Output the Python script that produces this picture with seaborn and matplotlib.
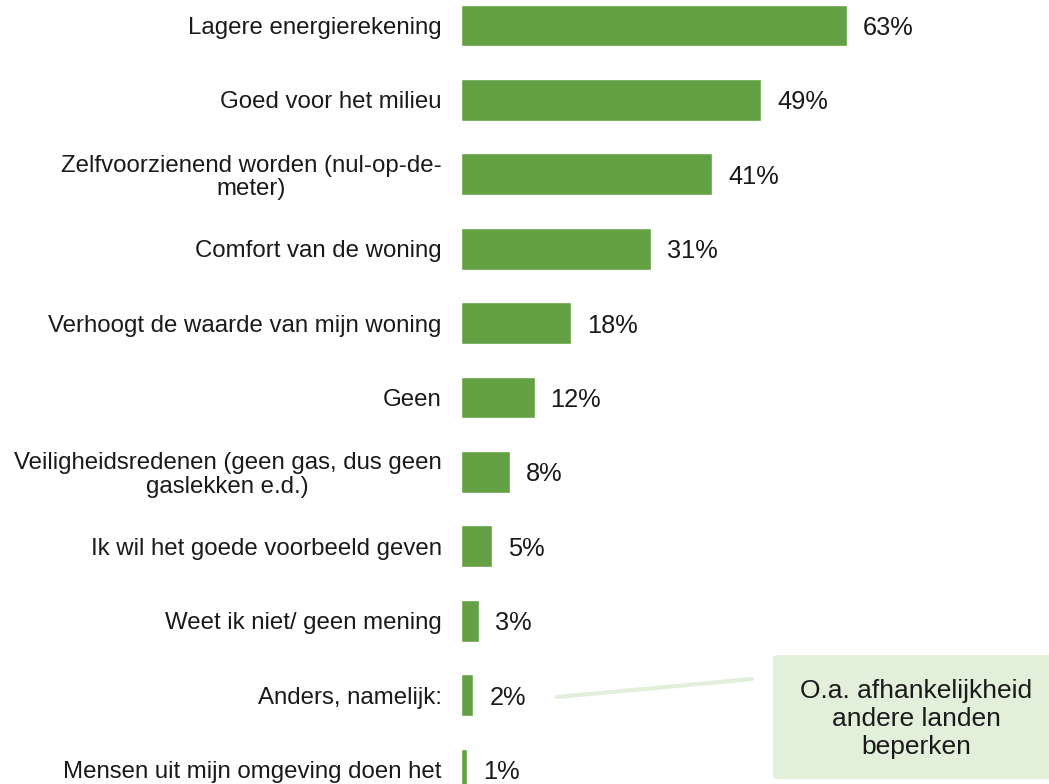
import seaborn as sns
import pandas as pd
import matplotlib.pyplot as plt
from matplotlib.patches import FancyBboxPatch
from matplotlib.lines import Line2D

redenen = [
    "Lagere energierekening",
    "Goed voor het milieu",
    "Zelfvoorzienend worden (nul-op-de-\nmeter)",
    "Comfort van de woning",
    "Verhoogt de waarde van mijn woning",
    "Geen",
    "Veiligheidsredenen (geen gas, dus geen\ngaslekken e.d.)",
    "Ik wil het goede voorbeeld geven",
    "Weet ik niet/ geen mening",
    "Anders, namelijk:",
    "Mensen uit mijn omgeving doen het",
]
percentages = [63, 49, 41, 31, 18, 12, 8, 5, 3, 2, 1]
toelichting = "O.a. afhankelijkheid\nandere landen\nbeperken"

df = pd.DataFrame({"reden": redenen, "pct": percentages})

sns.set_style("white")
plt.rcParams["font.family"] = ["Liberation Sans", "DejaVu Sans"]

W, H = 1049, 784
x0, px_pct = 461, 6.13       # bar start (px) and px per percent
y0, px_row = 25.5, 74.4      # first bar centre and row spacing (px)

fig = plt.figure(figsize=(W / 100, H / 100), dpi=100)
ax = fig.add_axes([x0 / W, 0, 1 - x0 / W, 1])

sns.barplot(data=df, x="pct", y="reden", color="#64A044", saturation=1,
            width=0.56, orient="h", ax=ax)

ax.set_xlim(0, (W - x0) / px_pct)
ax.set_ylim((H - y0) / px_row, -y0 / px_row)
ax.set_xlabel("")
ax.set_ylabel("")
ax.set_xticks([])
for s in ax.spines.values():
    s.set_visible(False)

ax.tick_params(axis="y", length=0, pad=14)
ax.set_yticks(range(len(redenen)))
ax.set_yticklabels(redenen, fontsize=17.3, multialignment="center",
                   color="#1a1a1a", linespacing=1.1)

for i, p in enumerate(percentages):
    ax.text(p + 16 / px_pct, i, f"{p}%", va="center_baseline", ha="left",
            fontsize=18.3, color="#1a1a1a")

# toelichting bij "Anders, namelijk"
fig.add_artist(Line2D([557 / W, 752 / W], [1 - 697 / H, 1 - 679 / H],
                      transform=fig.transFigure, color="#E2EFDA", lw=3))
box = FancyBboxPatch((773 / W, 1 - 779 / H), 300 / W, 124 / H,
                     boxstyle="round,pad=0,rounding_size=0.005",
                     transform=fig.transFigure, facecolor="#E2EFDA",
                     edgecolor="none")
fig.add_artist(box)
fig.text(916 / W, 1 - 719 / H, toelichting, ha="center", va="center",
         fontsize=19, color="#1a1a1a", multialignment="center", linespacing=1.2)

fig.savefig("out.png", dpi=100)
